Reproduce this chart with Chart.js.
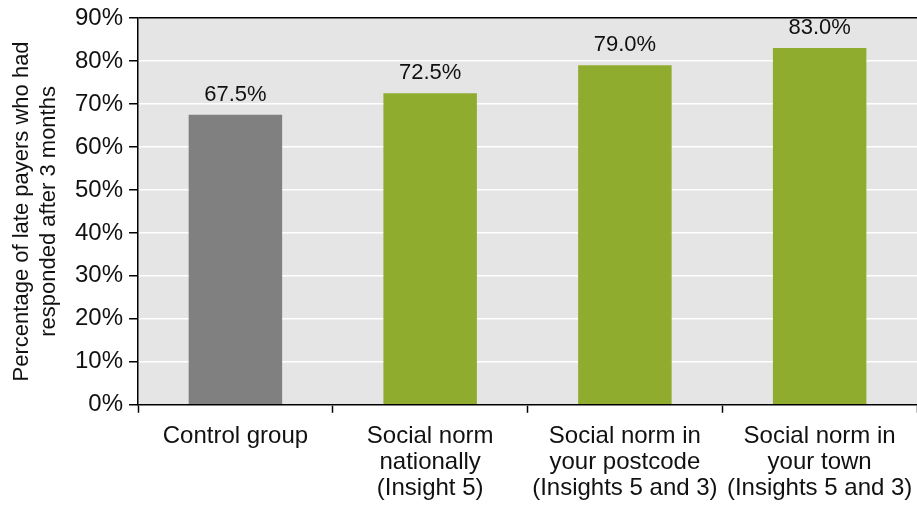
<!DOCTYPE html>
<html lang="en">
<head>
    <meta charset="UTF-8">
    <title>Late payers response</title>
    <script src="https://cdn.jsdelivr.net/npm/chart.js"></script>
    <style>
        html, body { margin: 0; padding: 0; background: #ffffff; }
        #wrap { width: 917px; height: 508px; }
    </style>
</head>
<body>
    <div id="wrap"><canvas id="chart"></canvas></div>
    <script>
        // data
        var categories = [
            ['Control group'],
            ['Social norm', 'nationally', '(Insight 5)'],
            ['Social norm in', 'your postcode', '(Insights 5 and 3)'],
            ['Social norm in', 'your town', '(Insights 5 and 3)']
        ];
        var values = [67.5, 72.5, 79.0, 83.0];
        var barColors = ['#808080', '#8fac2e', '#8fac2e', '#8fac2e'];
        var yTicks = [0, 10, 20, 30, 40, 50, 60, 70, 80, 90];

        var font = "'Liberation Sans', Arial, Helvetica, sans-serif";

        // grey plot background
        var plotBg = {
            id: 'plotBg',
            beforeDraw: function (chart) {
                var a = chart.chartArea, c = chart.ctx;
                c.save();
                c.fillStyle = '#e5e5e5';
                c.fillRect(a.left, a.top, a.right - a.left, a.bottom - a.top);
                c.restore();
            }
        };

        // value labels over the bars
        var valueLabels = {
            id: 'valueLabels',
            afterDatasetsDraw: function (chart) {
                var c = chart.ctx;
                var meta = chart.getDatasetMeta(0);
                c.save();
                c.font = '22px ' + font;
                c.fillStyle = '#111';
                c.textAlign = 'center';
                c.textBaseline = 'bottom';
                meta.data.forEach(function (bar, i) {
                    c.fillText(values[i].toFixed(1) + '%', bar.x, bar.y - 9);
                });
                c.restore();
            }
        };

        var ctx = document.getElementById('chart').getContext('2d');
        new Chart(ctx, {
            type: 'bar',
            data: {
                labels: categories,
                datasets: [{
                    data: values,
                    backgroundColor: barColors,
                    categoryPercentage: 1,
                    barPercentage: 0.48
                }]
            },
            options: {
                responsive: true,
                maintainAspectRatio: false,
                animation: false,
                layout: { padding: { top: 18, right: 0, left: 8, bottom: 0 } },
                plugins: {
                    legend: { display: false },
                    tooltip: { enabled: false }
                },
                scales: {
                    x: {
                        afterFit: function (axis) {
                            // plot runs to the right edge like the original
                            axis.paddingLeft = 0;
                            axis.paddingRight = 0;
                            // labels sit close to the bottom edge
                            axis.height -= 4;
                        },
                        grid: {
                            offset: true,
                            drawOnChartArea: false,
                            tickLength: 8,
                            tickColor: '#000',
                            tickWidth: 1.5
                        },
                        border: { color: '#000', width: 1.5 },
                        ticks: {
                            color: '#111',
                            maxRotation: 0,
                            autoSkip: false,
                            padding: 10,
                            font: { family: font, size: 24, lineHeight: 1.1 }
                        }
                    },
                    y: {
                        min: 0,
                        max: 90,
                        afterBuildTicks: function (axis) {
                            axis.ticks = yTicks.map(function (v) { return { value: v }; });
                        },
                        afterFit: function (axis) {
                            axis.paddingTop = 0;
                        },
                        grid: {
                            color: function (c) { return c.tick && c.tick.value === 90 ? '#000' : '#ffffff'; },
                            lineWidth: 1.5,
                            tickLength: 9,
                            tickColor: '#000',
                            tickWidth: 1.5
                        },
                        border: { color: '#000', width: 1.5 },
                        ticks: {
                            color: '#111',
                            padding: 6,
                            font: { family: font, size: 24 },
                            callback: function (v) { return v + '%'; }
                        },
                        title: {
                            display: true,
                            text: ['Percentage of late payers who had', 'responded after 3 months'],
                            color: '#111',
                            padding: { top: 0, bottom: 6 },
                            font: { family: font, size: 22, lineHeight: 1.25 }
                        }
                    }
                }
            },
            plugins: [plotBg, valueLabels]
        });
    </script>
</body>
</html>
